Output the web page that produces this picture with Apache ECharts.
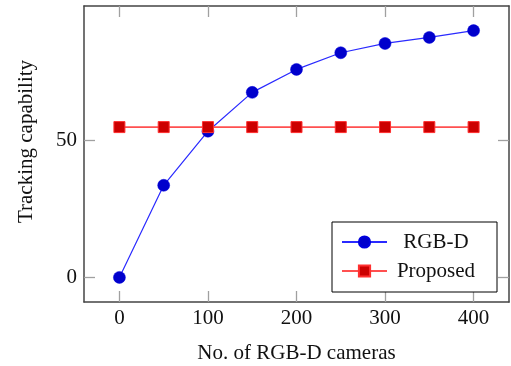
<!DOCTYPE html>
<html>
<head>
<meta charset="utf-8">
<script src="https://cdn.jsdelivr.net/npm/echarts@6/dist/echarts.min.js"></script>
<style>html,body{margin:0;padding:0;background:#fff}#c{width:511px;height:366px}</style>
</head>
<body>
<div id="c"></div>
<script>
const cameras = [0, 50, 100, 150, 200, 250, 300, 350, 400];
const rgbd = [0, 33.7, 53.5, 67.7, 76.1, 82.2, 85.6, 87.8, 90.3];
const proposed = [55, 55, 55, 55, 55, 55, 55, 55, 55];
const xTicks = [0, 100, 200, 300, 400];
const yTicks = [0, 50];
const seriesNames = ['RGB-D', 'Proposed'];
const xName = 'No. of RGB-D cameras';
const yName = 'Tracking capability';

const FONT = 'Liberation Serif';
const FS = 21;
const chart = echarts.init(document.getElementById('c'), null, {renderer: 'canvas'});
const frame = {show: true, onZero: false, lineStyle: {color: '#444', width: 1.5}};
const tick = (vals) => ({show: true, inside: true, length: 11, customValues: vals, lineStyle: {color: '#a0a0a0', width: 1.3}});
const xMin = -40, xMax = 440, yMin = -9, yMax = 99.3;

chart.setOption({
  animation: false,
  backgroundColor: '#fff',
  grid: {left: 84, right: 2, top: 6, bottom: 64, containLabel: false, outerBoundsMode: 'none'},
  xAxis: [{
    type: 'value', min: xMin, max: xMax, position: 'bottom',
    axisLine: frame, axisTick: tick(xTicks), splitLine: {show: false},
    axisLabel: {customValues: xTicks, margin: 6, fontFamily: FONT, fontSize: FS, color: '#111'},
    name: xName, nameLocation: 'middle', nameGap: 41,
    nameTextStyle: {fontFamily: FONT, fontSize: FS, color: '#111'}
  }, {
    type: 'value', min: xMin, max: xMax, position: 'top',
    axisLine: frame, axisTick: tick(xTicks), axisLabel: {show: false}, splitLine: {show: false}
  }],
  yAxis: [{
    type: 'value', min: yMin, max: yMax, position: 'left',
    axisLine: frame, axisTick: tick(yTicks), splitLine: {show: false},
    axisLabel: {customValues: yTicks, margin: 7, fontFamily: FONT, fontSize: FS, color: '#111'},
    name: yName, nameLocation: 'middle', nameGap: 47,
    nameTextStyle: {fontFamily: FONT, fontSize: FS, color: '#111', padding: [0, 0, 0, 25]}
  }, {
    type: 'value', min: yMin, max: yMax, position: 'right',
    axisLine: frame, axisTick: tick(yTicks), axisLabel: {show: false}, splitLine: {show: false}
  }],
  legend: {
    orient: 'vertical', left: 332, top: 222,
    padding: [9, 17, 10, 9], itemGap: 7, itemWidth: 45, itemHeight: 14,
    borderColor: '#000', borderWidth: 1, backgroundColor: '#fff',
    data: seriesNames,
    formatter: (n) => '{c|' + n + '}',
    textStyle: {fontFamily: FONT, fontSize: FS, color: '#111', lineHeight: 22,
      rich: {c: {width: 88, align: 'center', fontFamily: FONT, fontSize: FS, lineHeight: 22}}}
  },
  series: [{
    name: seriesNames[0], type: 'line',
    data: cameras.map((c, i) => [c, rgbd[i]]),
    symbol: 'circle', symbolSize: 12,
    lineStyle: {color: '#2a2aff', width: 1.2},
    itemStyle: {color: '#0000cc', borderColor: '#0000dd', borderWidth: 0.5},
    z: 2
  }, {
    name: seriesNames[1], type: 'line',
    data: cameras.map((c, i) => [c, proposed[i]]),
    symbol: 'rect', symbolSize: 11,
    lineStyle: {color: '#ff5050', width: 1.6},
    itemStyle: {color: '#cc0000', borderColor: '#ff3030', borderWidth: 1},
    z: 3
  }]
});
</script>
</body>
</html>
